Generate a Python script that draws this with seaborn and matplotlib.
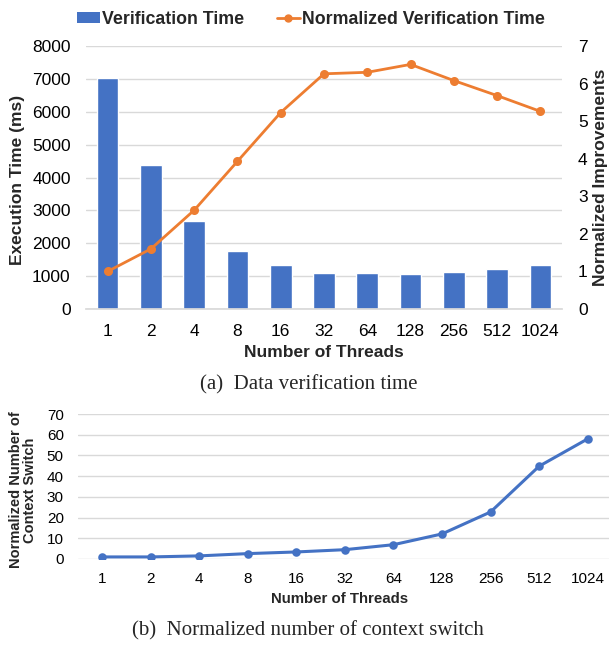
import matplotlib
matplotlib.use('Agg')
import matplotlib.pyplot as plt
import numpy as np
import pandas as pd
import seaborn as sns
from matplotlib.lines import Line2D
from matplotlib.patches import Patch

threads = ['1', '2', '4', '8', '16', '32', '64', '128', '256', '512', '1024']
verify_ms = [7030, 4370, 2665, 1770, 1335, 1110, 1100, 1070, 1140, 1225, 1330]
norm_verify = [1.0, 1.60, 2.63, 3.93, 5.23, 6.26, 6.30, 6.51, 6.08, 5.68, 5.26]
norm_ctx_switch = [1.0, 1.0, 1.5, 2.6, 3.4, 4.5, 6.9, 12.1, 22.7, 44.8, 58.0]

BLUE = '#4472C4'
ORANGE = '#ED7D31'
GRID = '#D9D9D9'
TICK = '#000000'

sns.set_theme(style='white')
plt.rcParams['font.family'] = ['Liberation Sans', 'DejaVu Sans']
SERIF = ['Liberation Serif', 'DejaVu Serif']

df = pd.DataFrame({'threads': threads, 'verify_ms': verify_ms,
                   'norm_verify': norm_verify, 'ctx': norm_ctx_switch})

W, H = 609, 645
fig = plt.figure(figsize=(W / 100, H / 100), dpi=100)

def box(x0, y0, x1, y1):
    return [x0 / W, 1 - y1 / H, (x1 - x0) / W, (y1 - y0) / H]

def style_axis(ax):
    for s in ax.spines.values():
        s.set_visible(False)
    ax.grid(axis='y', color=GRID, linewidth=1.0)
    ax.set_axisbelow(True)
    ax.tick_params(length=0)

# ---- (a) verification time ----
ax = fig.add_axes(box(86, 46, 562, 309))
sns.barplot(data=df, x='threads', y='verify_ms', color=BLUE, saturation=1,
            width=0.5, ax=ax, errorbar=None, order=threads)
style_axis(ax)
ax.spines['bottom'].set_visible(True)
ax.spines['bottom'].set_color(GRID)
ax.set_ylim(0, 8000)
ax.set_yticks(np.arange(0, 8001, 1000))
ax.set_xlim(-0.5, len(threads) - 0.5)
ax.tick_params(axis='y', pad=11, labelsize=12.5, colors=TICK)
ax.tick_params(axis='x', pad=11, labelsize=12.5, colors=TICK)
ax.set_xlabel('')
ax.set_ylabel('')

ax2 = ax.twinx()
sns.pointplot(data=df, x='threads', y='norm_verify', color=ORANGE, order=threads,
              markers='o', linestyles='-', errorbar=None, ax=ax2,
              markersize=5, linewidth=2)
for s in ax2.spines.values():
    s.set_visible(False)
ax2.set_ylim(0, 7)
ax2.set_yticks(np.arange(0, 8, 1))
ax2.set_xlim(-0.5, len(threads) - 0.5)
ax2.tick_params(length=0, axis='y', pad=11.5, labelsize=12.5, colors=TICK)
ax2.grid(False)
ax2.set_ylabel('')
ax2.set_xlabel('')

fig.text(18 / W, 1 - 180 / H, 'Execution Time (ms)', rotation=90, ha='center',
         va='center', fontsize=12.5, fontweight='bold')
fig.text(601 / W, 1 - 177 / H, 'Normalized Improvements', rotation=90,
         ha='center', va='center', fontsize=12.5, fontweight='bold')
fig.text(324 / W, 1 - 353 / H, 'Number of Threads', ha='center', va='center',
         fontsize=12.5, fontweight='bold')
fig.text(309 / W, 1 - 385 / H, '(a)  Data verification time', ha='center',
         va='center', fontsize=15, family=SERIF)

handles = [Patch(facecolor=BLUE, edgecolor='none'),
           Line2D([0], [0], color=ORANGE, marker='o', markersize=5, linewidth=2)]
fig.legend(handles, ['Verification Time', 'Normalized Verification Time'],
           loc='center', bbox_to_anchor=(311 / W, 1 - 19 / H), ncol=2,
           frameon=False, handlelength=1.3, handleheight=0.6, handletextpad=0.12,
           columnspacing=1.8, prop={'weight': 'bold', 'size': 12.8})

# ---- (b) context switches ----
bx = fig.add_axes(box(77.7, 414, 612, 559))
sns.pointplot(data=df, x='threads', y='ctx', color=BLUE, order=threads,
              markers='o', linestyles='-', errorbar=None, ax=bx,
              markersize=4.5, linewidth=2.2)
style_axis(bx)
bx.set_ylim(0, 70)
bx.set_yticks(np.arange(0, 71, 10))
bx.set_xlim(-0.5, len(threads) - 0.5)
bx.tick_params(axis='y', pad=10, labelsize=11, colors=TICK)
bx.tick_params(axis='x', pad=9.5, labelsize=11, colors=TICK)
bx.set_xlabel('')
bx.set_ylabel('')

fig.text(23 / W, 1 - 490 / H, 'Normalized Number of\nContext Switch', rotation=90,
         ha='center', va='center', fontsize=10.5, fontweight='bold',
         linespacing=1.0)
fig.text(340 / W, 1 - 599 / H, 'Number of Threads', ha='center', va='center',
         fontsize=10.8, fontweight='bold')
fig.text(308 / W, 1 - 631 / H, '(b)  Normalized number of context switch',
         ha='center', va='center', fontsize=15, family=SERIF)

fig.savefig('out.png', dpi=100)
